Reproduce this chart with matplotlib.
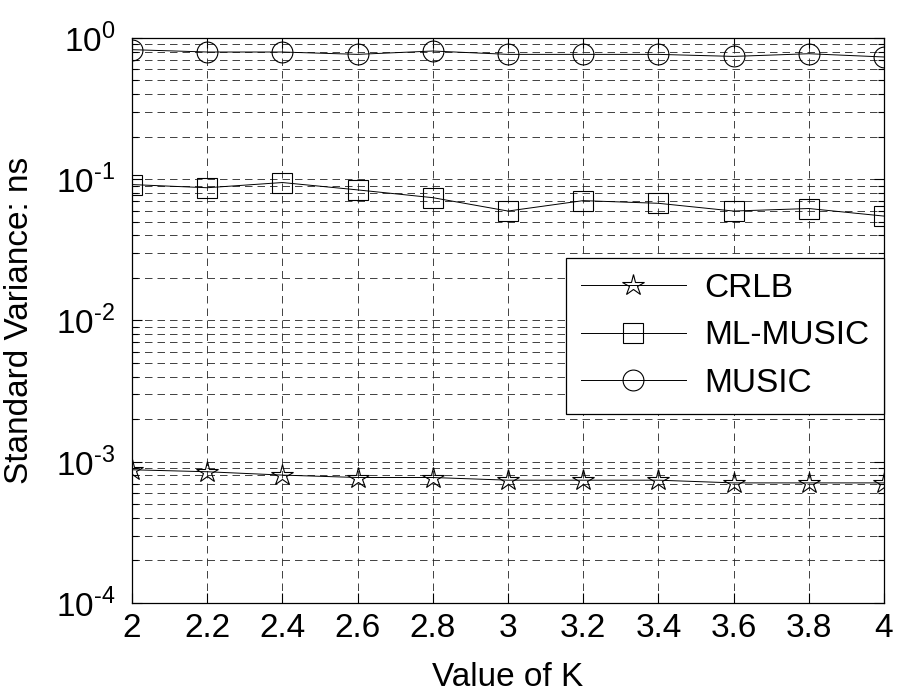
import numpy as np
import matplotlib
matplotlib.use('Agg')
import matplotlib.pyplot as plt
from matplotlib.ticker import LogLocator, NullFormatter, FuncFormatter

plt.rcParams['font.family'] = ['Liberation Sans', 'DejaVu Sans']
plt.rcParams['mathtext.fontset'] = 'custom'
plt.rcParams['mathtext.rm'] = 'Liberation Sans'
plt.rcParams['axes.unicode_minus'] = False

# 데이터
k_values = [2.0, 2.2, 2.4, 2.6, 2.8, 3.0, 3.2, 3.4, 3.6, 3.8, 4.0]
crlb = [8.77e-4, 8.49e-4, 8.04e-4, 7.73e-4, 7.73e-4, 7.40e-4, 7.40e-4, 7.40e-4, 7.08e-4, 7.08e-4, 7.08e-4]
ml_music = [0.0916, 0.087, 0.0947, 0.084, 0.074, 0.0595, 0.0705, 0.0675, 0.0595, 0.062, 0.0548]
music = [0.826, 0.795, 0.795, 0.765, 0.808, 0.765, 0.765, 0.765, 0.74, 0.773, 0.733]
x_ticks = [2, 2.2, 2.4, 2.6, 2.8, 3, 3.2, 3.4, 3.6, 3.8, 4]
x_tick_labels = ['2', '2.2', '2.4', '2.6', '2.8', '3', '3.2', '3.4', '3.6', '3.8', '4']

fig = plt.figure(figsize=(8.99, 6.91), dpi=100)
ax = fig.add_axes([0.1468, 0.1274, 0.8365, 0.8177])

lw = 0.7
ax.plot(k_values, crlb, color='black', lw=lw, marker='*', markersize=16,
        markerfacecolor='none', markeredgecolor='black', markeredgewidth=0.8, label='CRLB')
ax.plot(k_values, ml_music, color='black', lw=lw, marker='s', markersize=15,
        markerfacecolor='none', markeredgecolor='black', markeredgewidth=0.8, label='ML-MUSIC')
ax.plot(k_values, music, color='black', lw=lw, marker='o', markersize=15,
        markerfacecolor='none', markeredgecolor='black', markeredgewidth=0.8, label='MUSIC')

ax.set_yscale('log')
ax.set_ylim(1e-4, 1e0)
ax.set_xlim(2, 4)
ax.set_xticks(x_ticks)
ax.set_xticklabels(x_tick_labels)
ax.yaxis.set_major_locator(LogLocator(base=10, numticks=10))
ax.yaxis.set_minor_locator(LogLocator(base=10, subs=np.arange(2, 10), numticks=20))
ax.yaxis.set_minor_formatter(NullFormatter())


def log_label(v, pos):
    e = int(round(np.log10(v)))
    return r'$10^{\text{%d}}$' % e


ax.yaxis.set_major_formatter(FuncFormatter(log_label))

# 그리드 (MATLAB 스타일)
ax.grid(True, which='major', axis='both', linestyle=(0, (9, 6)), color='#222222', linewidth=0.6)
ax.grid(True, which='minor', axis='y', linestyle=(0, (9, 6)), color='#222222', linewidth=0.6)

ax.tick_params(which='both', direction='in', top=True, right=True, labelsize=24, width=0.8)
ax.tick_params(which='major', length=7)
ax.tick_params(which='minor', length=4)
ax.tick_params(axis='x', pad=7)
ax.tick_params(axis='y', pad=12)
for s in ax.spines.values():
    s.set_linewidth(0.9)

ax.set_xlabel('Value of K', fontsize=24)
ax.set_ylabel('Standard Variance: ns', fontsize=24)
ax.xaxis.set_label_coords(0.5, -0.104)
ax.yaxis.set_label_coords(-0.129, 0.5)

leg = ax.legend(loc='center right', bbox_to_anchor=(1.0, 0.473), fontsize=24,
                frameon=True, fancybox=False, edgecolor='black', framealpha=1,
                handlelength=3.15, borderpad=0.45, labelspacing=0.5, handletextpad=0.55,
                borderaxespad=0)
leg.get_frame().set_linewidth(0.9)

plt.savefig('out.png', dpi=100)
